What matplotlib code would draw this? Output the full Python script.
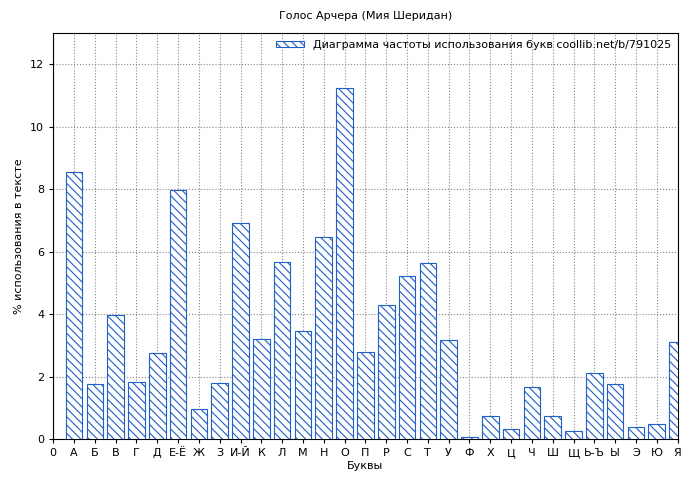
import matplotlib
matplotlib.use('Agg')
import matplotlib.pyplot as plt

plt.rcParams['font.family'] = ['DejaVu Sans']
plt.rcParams['hatch.color'] = '#1f5fc8'
plt.rcParams['hatch.linewidth'] = 0.8

letters = ['А', 'Б', 'В', 'Г', 'Д', 'Е-Ё', 'Ж', 'З', 'И-Й', 'К', 'Л', 'М', 'Н', 'О', 'П',
           'Р', 'С', 'Т', 'У', 'Ф', 'Х', 'Ц', 'Ч', 'Ш', 'Щ', 'Ь-Ъ', 'Ы', 'Э', 'Ю', 'Я']
freq = [8.54, 1.76, 3.97, 1.82, 2.75, 7.97, 0.96, 1.79, 6.91, 3.2, 5.66, 3.46, 6.46, 11.23, 2.78,
        4.29, 5.22, 5.63, 3.17, 0.06, 0.74, 0.32, 1.66, 0.74, 0.26, 2.11, 1.76, 0.38, 0.48, 3.1]

fig = plt.figure(figsize=(7, 4.8), dpi=100)
ax = fig.add_axes([0.076, 0.085, 0.892, 0.846])
pos = list(range(1, len(letters) + 1))
ax.bar(pos, freq, width=0.8, color='white', edgecolor='#1f5fc8', linewidth=0.8,
       hatch='\\\\\\\\', label='Диаграмма частоты использования букв coollib.net/b/791025', zorder=3)

ax.set_xlim(0, 30)
ax.set_ylim(0, 13)
ax.set_xticks(range(0, 31))
ax.set_xticklabels(['0'] + letters, fontsize=8)
ax.set_yticks(range(0, 13, 2))
ax.tick_params(labelsize=8, length=3)
ax.grid(True, linestyle=':', color='#888888', linewidth=0.8, zorder=0)
ax.set_xlabel('Буквы', fontsize=8, labelpad=2)
ax.set_ylabel('% использования в тексте', fontsize=8)
ax.set_title('Голос Арчера (Мия Шеридан)', fontsize=8, pad=10)
ax.legend(loc='upper right', frameon=False, fontsize=8, borderaxespad=0.2,
          handlelength=2.5, handleheight=0.5)

fig.savefig('out.png')
